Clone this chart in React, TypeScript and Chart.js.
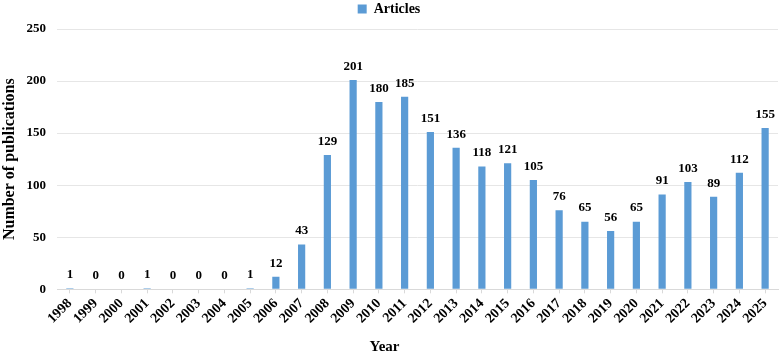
import React, { useEffect, useRef } from "react";
import { Chart, registerables } from "chart.js";

Chart.register(...registerables);

const years = ["1998","1999","2000","2001","2002","2003","2004","2005","2006","2007","2008","2009","2010","2011","2012","2013","2014","2015","2016","2017","2018","2019","2020","2021","2022","2023","2024","2025"];
const articles = [1,0,0,1,0,0,0,1,12,43,129,201,180,185,151,136,118,121,105,76,65,56,65,91,103,89,112,155];
const yTicks = [0, 50, 100, 150, 200, 250];
const xTitle = "Year";

const FONT = "'Liberation Serif', 'Times New Roman', serif";

const labelPlugin = {
  id: "valueLabels",
  afterDatasetsDraw(chart: any) {
    const ctx = chart.ctx;
    const meta = chart.getDatasetMeta(0);
    ctx.save();
    ctx.font = `bold 13px ${FONT}`;
    ctx.fillStyle = "#000";
    ctx.textAlign = "center";
    ctx.textBaseline = "bottom";
    meta.data.forEach((bar: any, i: number) => {
      ctx.fillText(String(articles[i]), bar.x, bar.y - 7);
    });
    ctx.restore();
  },
};

const xTitlePlugin = {
  id: "xTitle",
  afterDraw(chart: any) {
    const ctx = chart.ctx;
    ctx.save();
    ctx.font = `bold 15px ${FONT}`;
    ctx.fillStyle = "#000";
    ctx.textAlign = "center";
    ctx.textBaseline = "middle";
    ctx.fillText(xTitle, chart.width / 2 - 6, chart.height - 9);
    ctx.restore();
  },
};

const legendSpacer = {
  id: "legendSpacer",
  beforeInit(chart: any) {
    const orig = chart.legend.fit;
    chart.legend.fit = function () {
      orig.call(this);
      this.height += 3;
    };
  },
};

export default function App() {
  const ref = useRef<HTMLCanvasElement>(null);
  useEffect(() => {
    document.body.style.margin = "0";
    const chart = new Chart(ref.current!, {
      type: "bar",
      data: {
        labels: years,
        datasets: [
          {
            label: "Articles",
            data: articles,
            backgroundColor: "#5b9bd5",
            borderColor: "#5b9bd5",
            barPercentage: 0.28,
            categoryPercentage: 1,
          },
        ],
      },
      options: {
        animation: false,
        responsive: false,
        maintainAspectRatio: false,
        layout: { padding: { left: 0, right: 3, top: 0, bottom: 27 } },
        plugins: {
          legend: {
            display: true,
            position: "top",
            labels: {
              boxWidth: 9,
              boxHeight: 9,
              color: "#000",
              font: { family: FONT, size: 14, weight: "bold" },
              padding: 2,
            },
          },
          tooltip: { enabled: false },
        },
        scales: {
          x: {
            afterFit: (axis: any) => {
              axis.paddingLeft = 0;
              axis.paddingRight = 0;
            },
            grid: {
              display: true,
              drawOnChartArea: false,
              drawTicks: true,
              tickLength: 4,
              offset: false,
              color: "#d9d9d9",
            },
            border: { display: true, color: "#d9d9d9" },
            ticks: {
              color: "#000",
              maxRotation: 45,
              minRotation: 45,
              autoSkip: false,
              padding: 2,
              font: { family: FONT, size: 14, weight: "bold" },
            },
            title: { display: false },
          },
          y: {
            min: 0,
            max: 250,
            afterBuildTicks: (axis: any) => {
              axis.ticks = yTicks.map((v) => ({ value: v }));
            },
            afterFit: (axis: any) => {
              axis.width = 57;
            },
            grid: { color: "#e6e6e6", drawTicks: false },
            border: { display: false },
            ticks: {
              color: "#000",
              padding: 11,
              font: { family: FONT, size: 13, weight: "bold" },
            },
            title: {
              display: true,
              text: "Number of publications",
              color: "#000",
              font: { family: FONT, size: 16, weight: "bold" },
              padding: { top: 0, bottom: 6 },
            },
          },
        },
      },
      plugins: [labelPlugin, xTitlePlugin, legendSpacer],
    });
    return () => chart.destroy();
  }, []);
  return <canvas ref={ref} width={781} height={356} style={{ display: "block" }} />;
}
